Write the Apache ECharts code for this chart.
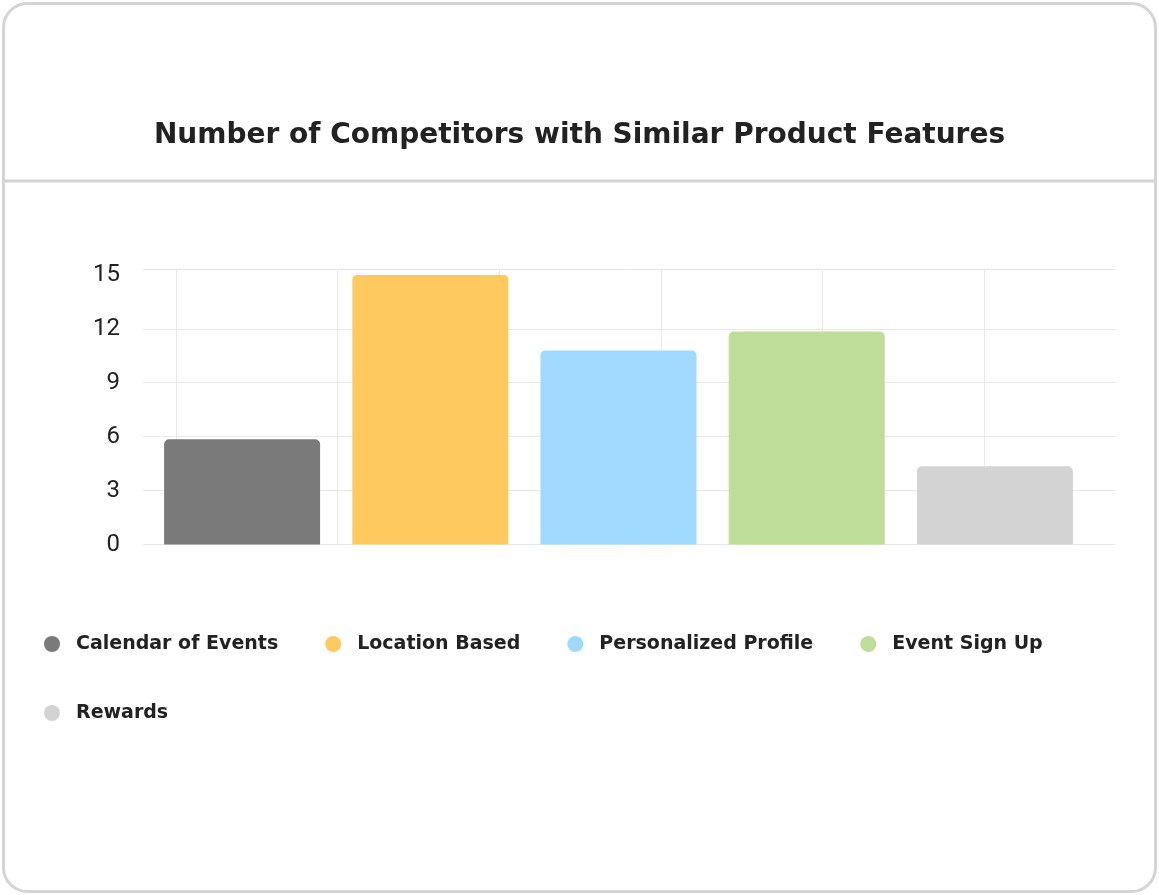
<!DOCTYPE html>
<html>
<head>
<meta charset="utf-8">
<script src="https://cdn.jsdelivr.net/npm/echarts@6/dist/echarts.min.js"></script>
<style>
  html, body { margin: 0; padding: 0; background: #ffffff; }
  #chart { width: 1159px; height: 895px; }
</style>
</head>
<body>
<div id="chart"></div>
<script>
// ---- Data ----
const titleText = 'Number of Competitors with Similar Product Features';
const categories = ['Calendar of Events', 'Location Based', 'Personalized Profile', 'Event Sign Up', 'Rewards'];
const values = [5.85, 15, 10.8, 11.85, 4.35];
const colors = ['#7a7a7a', '#fec95f', '#9fd9fd', '#bddd99', '#d3d3d3'];
const yTicks = [0, 3, 6, 9, 12, 15];
const yMax = 15.3;

// ---- Layout constants ----
const gridTop = 269.5;
const gridBottom = 895 - 544.5;
const gridLine = '#e8e8e8';
const fontMain = '"DejaVu Sans", "Noto Sans", sans-serif';

const chart = echarts.init(document.getElementById('chart'), null, { renderer: 'canvas' });

const series = categories.map((name, i) => ({
  name: name,
  type: 'bar',
  stack: 'all',
  xAxisIndex: 1,
  yAxisIndex: 1,
  barWidth: 156,
  itemStyle: { color: colors[i], borderRadius: [5, 5, 0, 0] },
  data: categories.map((c, j) => (j === i ? values[i] : '-')),
  emphasis: { disabled: true }
}));

const splitColors = yTicks.map(() => gridLine);
splitColors.push(gridLine);
splitColors[yTicks.length - 1] = 'rgba(0,0,0,0)';

const option = {
  animation: false,
  color: colors,
  title: {
    text: titleText,
    left: 'center',
    top: 117,
    textStyle: { fontFamily: fontMain, fontSize: 28, fontWeight: 'bold', color: '#222222' }
  },
  graphic: [
    {
      type: 'rect',
      shape: { x: 3.5, y: 3.5, width: 1152, height: 888, r: 24 },
      style: { fill: 'none', stroke: '#d4d4d4', lineWidth: 3 },
      silent: true,
      z: -10
    },
    {
      type: 'line',
      shape: { x1: 3, y1: 181, x2: 1156, y2: 181 },
      style: { stroke: '#d4d4d4', lineWidth: 3 },
      silent: true,
      z: -10
    }
  ],
  legend: {
    data: categories,
    left: 39,
    right: 59,
    top: 628,
    icon: 'circle',
    itemWidth: 30,
    itemHeight: 16,
    itemGap: 47,
    textStyle: {
      fontFamily: fontMain,
      fontSize: 19,
      fontWeight: 'bold',
      color: '#222222',
      lineHeight: 22,
      padding: [0, 0, 0, 4]
    },
    selectedMode: false
  },
  grid: [
    { left: 143, right: 43, top: gridTop, bottom: gridBottom },
    { left: 148, width: 941, top: gridTop, bottom: gridBottom },
    { left: 176, width: 808, top: gridTop, bottom: gridBottom }
  ],
  xAxis: [
    { gridIndex: 0, type: 'value', min: 0, max: 1, show: false },
    {
      gridIndex: 1, type: 'category', data: categories,
      axisLine: { show: false }, axisTick: { show: false }, axisLabel: { show: false },
      splitLine: { show: false }
    },
    {
      gridIndex: 2, type: 'value', min: 0, max: 5, interval: 1,
      axisLine: { show: false }, axisTick: { show: false }, axisLabel: { show: false },
      splitLine: { show: true, lineStyle: { color: gridLine, width: 1 } }
    }
  ],
  yAxis: [
    {
      gridIndex: 0, type: 'value', min: 0, max: yMax, interval: 3,
      axisLine: { show: false }, axisTick: { show: false },
      axisLabel: {
        margin: 23,
        fontFamily: 'Roboto, "Noto Sans", sans-serif',
        fontSize: 24,
        color: '#222222',
        formatter: (v) => (yTicks.indexOf(v) >= 0 ? String(v) : '')
      },
      splitLine: { show: true, lineStyle: { color: splitColors, width: 1 } }
    },
    { gridIndex: 1, type: 'value', min: 0, max: yMax, show: false },
    { gridIndex: 2, type: 'value', min: 0, max: 1, show: false }
  ],
  series: series
};

chart.setOption(option);
</script>
</body>
</html>
